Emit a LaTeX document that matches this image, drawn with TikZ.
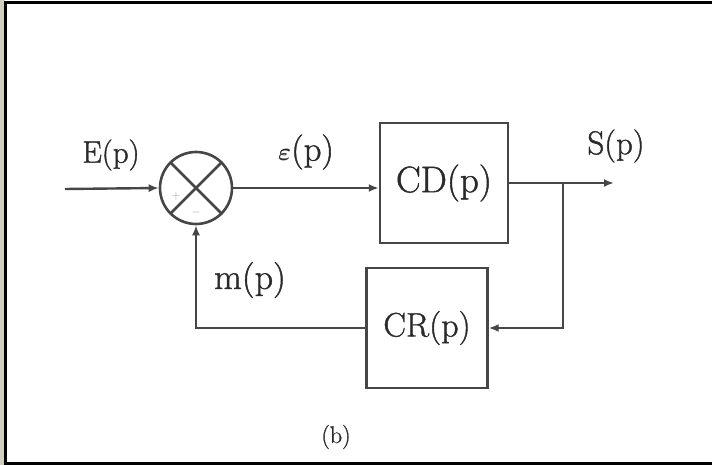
\documentclass[tikz,border=0pt]{standalone}
\usepackage{fontspec}
\newfontfamily\heavyfont{Latin Modern Roman}[FakeBold=1.2]
\usetikzlibrary{arrows.meta}
\definecolor{ink}{HTML}{464646}
\definecolor{txt}{HTML}{2A2A2A}
\definecolor{edge}{HTML}{8A8460}
\begin{document}
\begin{tikzpicture}[x=1pt,y=-1pt,
  wire/.style={draw=ink,line width=2.4pt},
  sig/.style={wire,-{Latex[length=10pt,width=8pt]}},
  blockbox/.style={draw=ink,line width=2.4pt,fill=white,inner sep=0pt,text=txt},
  sumnode/.style={draw=ink,line width=2.6pt,circle,minimum size=72pt,inner sep=0pt},
  lbl/.style={text=txt,inner sep=0pt},
  sgn/.style={font=\fontsize{13}{13}\selectfont,text=gray!70,inner sep=0pt}]
\useasboundingbox (0,0) rectangle (712,465);
% page and frame
\fill[white] (0,0) rectangle (712,465);
\fill[edge!40] (0,0) rectangle (5,465);
\draw[black,line width=3pt] (712,3) -- (5,3) -- (5,465);
\draw[black,line width=3pt] (5,463) -- (712,463);

% summing junction
\node[sumnode] (sum) at (196,188) {};
\draw[ink,line width=2.6pt] (sum.north west) -- (sum.south east)
                            (sum.north east) -- (sum.south west);
\node[sgn] (plus) at (176,196) {+};
\node[sgn] (minus) at (196,212) {$-$};

% blocks
\node[blockbox,minimum width=128pt,minimum height=120pt,
      font=\heavyfont\fontsize{37}{42}\selectfont] (cd) at (444,183) {CD(p)};
\node[blockbox,minimum width=121pt,minimum height=120pt,
      font=\heavyfont\fontsize{34}{40}\selectfont] (cr) at (427,328) {CR(p)};

% free ends
\coordinate (in) at (65,189);
\coordinate (out) at (614,183);
\coordinate (tap) at (563,183);

% signal paths
\draw[sig] (in) -- (sum.west);
\draw[sig] (sum.east) -- (sum.east -| cd.west);
\draw[sig] (cd.east |- tap) -- (out);
\draw[sig] (tap) |- (cr.east);
\draw[sig] (cr.west) -| (sum.south);

% labels
\node[lbl,font=\heavyfont\fontsize{31}{36}\selectfont] (lE) at (111,155) {E(p)};
\node[lbl,font=\heavyfont\fontsize{35}{40}\selectfont] (leps) at (306,152) {{\boldmath$\varepsilon$}(p)};
\node[lbl,font=\heavyfont\fontsize{33}{38}\selectfont] (lS) at (616,146) {S(p)};
\node[lbl,font=\heavyfont\fontsize{36}{40}\selectfont] (lm) at (250,280) {m(p)};
\node[lbl,font=\heavyfont\fontsize{24}{28}\selectfont] (lb) at (336,437) {(b)};
\end{tikzpicture}
\end{document}
